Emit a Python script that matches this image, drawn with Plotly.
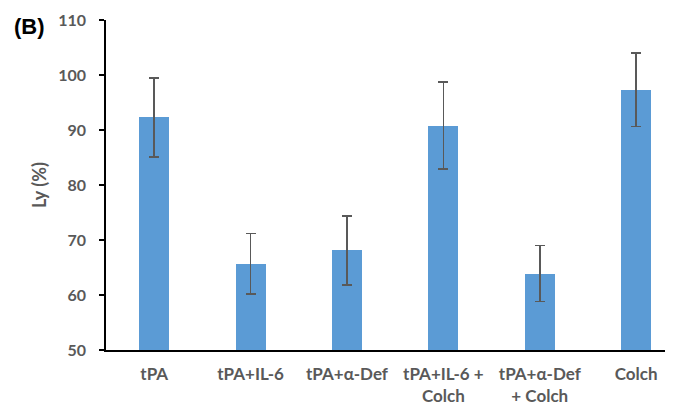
import plotly.graph_objects as go

categories = ["tPA", "tPA+IL-6", "tPA+α-Def", "tPA+IL-6 +<br>Colch", "tPA+α-Def<br>+ Colch", "Colch"]
values = [92.3, 65.7, 68.1, 90.8, 63.9, 97.3]
errors = [7.2, 5.5, 6.3, 7.9, 5.1, 6.7]
yticks = [50, 60, 70, 80, 90, 100, 110]

gray = "#595959"
font_family = "Lato, 'Open Sans', sans-serif"

fig = go.Figure()
fig.add_trace(go.Bar(
    x=list(range(len(categories))),
    y=values,
    width=0.31,
    marker=dict(color="#5B9BD5", line=dict(width=0)),
    error_y=dict(type="data", array=errors, visible=True, color=gray, thickness=1.5, width=5),
))

fig.update_layout(
    width=673, height=408,
    margin=dict(l=98, r=0, t=12, b=66, autoexpand=False),
    plot_bgcolor="white", paper_bgcolor="white",
    showlegend=False,
    font=dict(family=font_family, color=gray, size=16),
    xaxis=dict(
        tickmode="array", tickvals=list(range(len(categories))), ticktext=categories,
        range=[-0.5, 5.465], showline=True, linecolor="black", linewidth=1.5,
        ticks="", showgrid=False, zeroline=False, automargin=False,
        tickfont=dict(family=font_family, color=gray, size=17, weight="bold"),
        ticklabelstandoff=8,
    ),
    yaxis=dict(
        range=[50, 110], tickvals=yticks, showline=True, linecolor="black", linewidth=1.5,
        ticks="outside", ticklen=5, tickcolor="black", tickwidth=1.5, showgrid=False, zeroline=False,
        automargin=False, ticklabelstandoff=10,
        tickfont=dict(family=font_family, color=gray, size=16, weight="bold"),
        title=dict(text="Ly (%)", font=dict(family=font_family, color=gray, size=18, weight="bold"), standoff=7),
    ),
    bargap=0,
)

fig.add_annotation(
    text="<b>(B)</b>", xref="paper", yref="paper", x=-0.163, y=1.024,
    xanchor="left", yanchor="top", showarrow=False,
    font=dict(family="Liberation Sans, Arial, sans-serif", color="black", size=22),
)

fig.write_html("out.html")
